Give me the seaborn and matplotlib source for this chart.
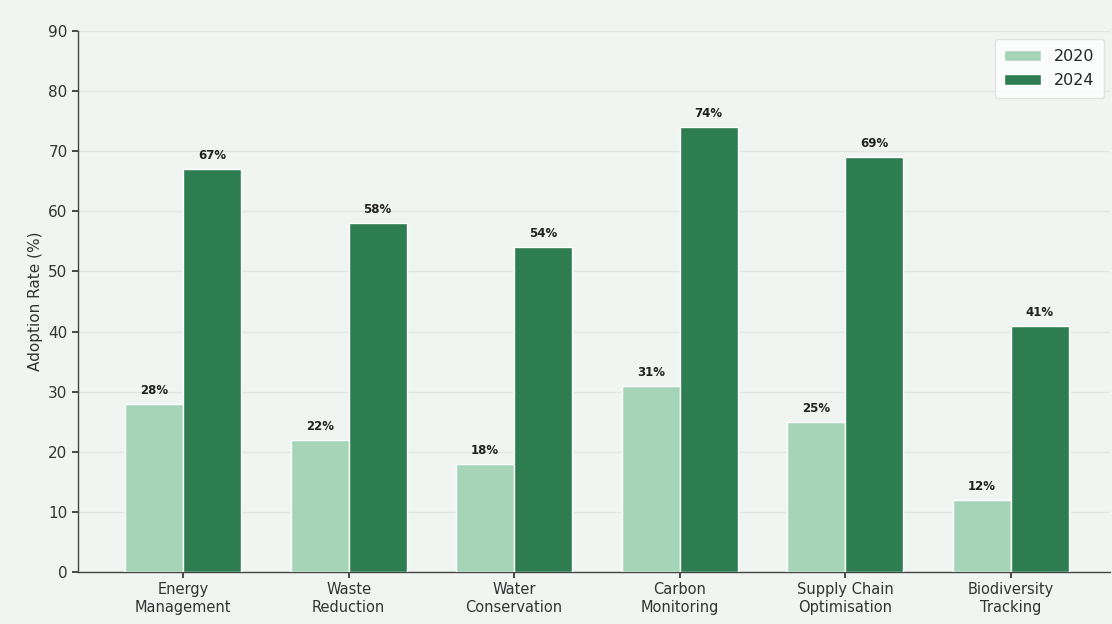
import matplotlib
matplotlib.use("Agg")
import matplotlib.pyplot as plt
import seaborn as sns
import pandas as pd

categories = ["Energy\nManagement", "Waste\nReduction", "Water\nConservation",
              "Carbon\nMonitoring", "Supply Chain\nOptimisation", "Biodiversity\nTracking"]
years = ["2020", "2024"]
values_2020 = [28, 22, 18, 31, 25, 12]
values_2024 = [67, 58, 54, 74, 69, 41]

df = pd.DataFrame({
    "Category": categories * 2,
    "Year": [years[0]] * len(categories) + [years[1]] * len(categories),
    "Adoption": values_2020 + values_2024,
})

bg = "#f0f5f2"
sns.set_theme(style="white")
plt.rcParams["font.family"] = ["DejaVu Sans"]

fig = plt.figure(figsize=(11.12, 6.24), dpi=100, facecolor=bg)
ax = fig.add_axes([78 / 1112, 52 / 624, (1110 - 78) / 1112, (572 - 31) / 624])
ax.set_facecolor(bg)

palette = {"2020": "#a6d4b6", "2024": "#2e7d50"}
sns.barplot(data=df, x="Category", y="Adoption", hue="Year", hue_order=years,
            palette=palette, width=0.7, saturation=1, ax=ax, edgecolor="white",
            linewidth=1.0, zorder=3)

for cont in ax.containers:
    ax.bar_label(cont, labels=[f"{int(v)}%" for v in cont.datavalues],
                 padding=5, fontsize=8.5, fontweight="bold", color="#222222")

ax.set_ylim(0, 90)
ax.set_yticks(range(0, 91, 10))
ax.set_xlim(-0.635, 5.6)
ax.set_xlabel("")
ax.set_ylabel("Adoption Rate (%)", fontsize=11, color="#333333")
ax.tick_params(axis="both", labelsize=11, colors="#333333", length=4,
               left=True, bottom=True)
ax.tick_params(axis="x", labelsize=10.5)
ax.yaxis.grid(True, linestyle="-", color="#e1e8e4", linewidth=1.0, zorder=0)
ax.set_axisbelow(True)
for s in ["top", "right"]:
    ax.spines[s].set_visible(False)
for s in ["left", "bottom"]:
    ax.spines[s].set_color("#444444")
    ax.spines[s].set_linewidth(1.0)

leg = ax.legend(title=None, loc="upper right", fontsize=11.5, frameon=True,
                facecolor="white", edgecolor="#dddddd", bbox_to_anchor=(0.994, 0.985),
                borderaxespad=0, handlelength=2.3, borderpad=0.6, labelspacing=0.6)

fig.savefig("out.png", dpi=100, facecolor=bg)
